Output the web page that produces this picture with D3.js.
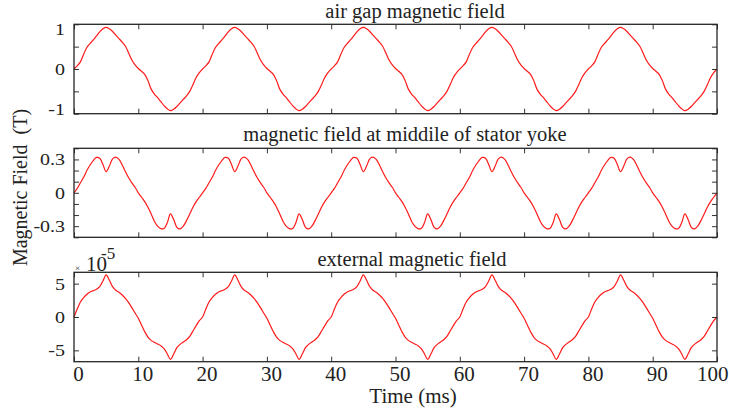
<!DOCTYPE html>
<html>
<head>
<meta charset="utf-8">
<script src="https://cdn.jsdelivr.net/npm/d3@7"></script>
<style>
  html, body { margin: 0; padding: 0; background: #fff; }
  svg { display: block; }
  text { font-family: "Liberation Serif", "Times New Roman", serif; fill: #222; }
</style>
</head>
<body>
<svg id="chart" width="729" height="411"></svg>
<script>
// Time axis (ms)
const timeTicks = [0, 10, 20, 30, 40, 50, 60, 70, 80, 90, 100];
const timeEnd = 100;

// One electrical period (20 ms) sampled every 0.5 ms; the steady-state waveform repeats each cycle
const periodMs = [0, 0.5, 1, 1.5, 2, 2.5, 3, 3.5, 4, 4.5, 5, 5.5, 6, 6.5, 7, 7.5, 8, 8.5, 9, 9.5,
                  10, 10.5, 11, 11.5, 12, 12.5, 13, 13.5, 14, 14.5, 15, 15.5, 16, 16.5, 17, 17.5, 18, 18.5, 19, 19.5];
const cycleStarts = [0, 20, 40, 60, 80];

// Air gap magnetic field (T)
const airGapPeriod = [0.00, 0.07, 0.16, 0.33, 0.48, 0.57, 0.65, 0.74, 0.83, 0.90,
                      0.93, 0.90, 0.84, 0.76, 0.68, 0.60, 0.51, 0.36, 0.20, 0.09,
                      0.01, -0.05, -0.12, -0.26, -0.45, -0.56, -0.64, -0.73, -0.82, -0.89,
                      -0.93, -0.90, -0.84, -0.76, -0.68, -0.60, -0.50, -0.35, -0.19, -0.08];

// Magnetic field at middle of stator yoke (T)
const yokePeriod = [0.00, 0.04, 0.09, 0.14, 0.20, 0.25, 0.29, 0.318, 0.31, 0.255,
                    0.19, 0.24, 0.305, 0.32, 0.30, 0.25, 0.19, 0.135, 0.09, 0.05,
                    0.00, -0.04, -0.08, -0.13, -0.19, -0.255, -0.30, -0.322, -0.32, -0.27,
                    -0.19, -0.24, -0.31, -0.325, -0.30, -0.25, -0.19, -0.13, -0.08, -0.04];

// External magnetic field (x 1e-5 T)
const externalPeriod = [0.0, 1.2, 2.25, 2.9, 3.4, 3.75, 3.95, 4.15, 4.55, 5.4,
                        6.3, 5.5, 4.55, 4.0, 3.7, 3.3, 2.8, 2.15, 1.4, 0.6,
                        -0.2, -1.2, -2.2, -3.0, -3.5, -3.8, -4.05, -4.3, -4.75, -5.5,
                        -6.35, -5.55, -4.6, -4.1, -3.75, -3.4, -2.9, -2.1, -1.3, -0.55];

// Panel titles and y-axis tick settings
const panelTitles = ["air gap magnetic field", "magnetic field at middile of stator yoke", "external magnetic field"];
const airGapTicks = [-1, -0.5, 0, 0.5, 1];
const airGapLabels = [-1, 0, 1];
const yokeTicks = [-0.4, -0.3, -0.2, -0.1, 0, 0.1, 0.2, 0.3, 0.4];
const yokeLabels = [-0.3, 0, 0.3];
const externalTicks = [-5, 0, 5];
const externalLabels = [-5, 0, 5];

function tileCycles(values) {
  const pts = [];
  cycleStarts.forEach(c => periodMs.forEach((t, i) => pts.push({ t: c + t, v: values[i] })));
  pts.push({ t: timeEnd, v: values[0] });
  return pts;
}

const panels = [
  { title: panelTitles[0], titleX: 415, titleY: 18, data: tileCycles(airGapPeriod), domain: [-1, 1],
    ticks: airGapTicks, labels: airGapLabels, top: 24.3, bottom: 113.7 },
  { title: panelTitles[1], titleX: 405, titleY: 141, data: tileCycles(yokePeriod), domain: [-0.4, 0.4],
    ticks: yokeTicks, labels: yokeLabels, top: 148.3, bottom: 237.3 },
  { title: panelTitles[2], titleX: 412, titleY: 266, data: tileCycles(externalPeriod), domain: [-6.7, 6.7],
    ticks: externalTicks, labels: externalLabels, top: 272.3, bottom: 361.7 }
];

const svg = d3.select("#chart");
const left = 74, right = 717;
const x = d3.scaleLinear().domain([0, timeEnd]).range([left, right]);

panels.forEach((p, idx) => {
  const y = d3.scaleLinear().domain(p.domain).range([p.bottom, p.top]);
  const g = svg.append("g");

  // curve
  const line = d3.line().x(d => x(d.t)).y(d => y(d.v)).curve(d3.curveCatmullRom.alpha(0.5));
  g.append("path").datum(p.data)
    .attr("d", line)
    .attr("fill", "none")
    .attr("stroke", "#ff1a1a")
    .attr("stroke-width", 1.2);

  // left axis with inward ticks
  const fmt = v => (p.labels.includes(v) ? String(v) : "");
  const ax = g.append("g").attr("transform", `translate(${left},0)`)
    .call(d3.axisLeft(y).tickValues(p.ticks).tickSize(-5).tickPadding(9).tickFormat(fmt));
  ax.attr("font-family", null);
  ax.selectAll("text")
    .style("font-size", "20px")
    .attr("fill", "#222")
    .attr("transform", function (v) {
      let shift = 0;
      const py = y(v);
      if (py - p.top < 5) shift = 5 - (py - p.top);
      if (p.bottom - py < 5) shift = -(5 - (p.bottom - py));
      return `translate(0,${shift}) scale(1,0.84)`;
    });

  // right axis ticks
  g.append("g").attr("transform", `translate(${right},0)`)
    .call(d3.axisRight(y).tickValues(p.ticks).tickSize(-5).tickFormat(""));

  // top axis ticks
  g.append("g").attr("transform", `translate(0,${p.top})`)
    .call(d3.axisTop(x).tickValues(timeTicks).tickSize(-5).tickFormat(""));

  // bottom axis ticks (labels only on the last panel)
  const bx = g.append("g").attr("transform", `translate(0,${p.bottom})`)
    .call(d3.axisBottom(x).tickValues(timeTicks).tickSize(-5).tickPadding(4)
      .tickFormat(idx === panels.length - 1 ? d3.format("d") : ""));
  bx.attr("font-family", null);
  bx.selectAll("text").style("font-size", "21px").attr("fill", "#222")
    .attr("x", d => (d === timeEnd ? 11 : 4))
    .attr("text-anchor", d => (d === timeEnd ? "end" : "middle"));

  g.selectAll(".domain").remove();
  g.selectAll(".tick line").attr("stroke", "#333").attr("stroke-width", 1);

  // frame
  g.append("rect")
    .attr("x", left).attr("y", p.top)
    .attr("width", right - left).attr("height", p.bottom - p.top)
    .attr("fill", "none").attr("stroke", "#262626").attr("stroke-width", 1.3);

  // title
  svg.append("text")
    .attr("x", p.titleX).attr("y", p.titleY)
    .attr("text-anchor", "middle")
    .style("font-size", "20.5px")
    .text(p.title);
});

// exponent marker for the external field panel
const expo = svg.append("g");
expo.append("text").attr("x", 75).attr("y", 271).style("font-size", "9px").text("\u00d7");
expo.append("text").attr("x", 86).attr("y", 270.5).style("font-size", "21px").text("10");
expo.append("text").attr("x", 101).attr("y", 259).style("font-size", "17px").text("-5");

// axis labels
svg.append("text")
  .attr("x", 413).attr("y", 403)
  .attr("text-anchor", "middle")
  .style("font-size", "21px")
  .text("Time (ms)");

svg.append("text")
  .attr("transform", "translate(27,187.5) rotate(-90)")
  .attr("text-anchor", "middle")
  .style("font-size", "20px")
  .style("white-space", "pre")
  .text("Magnetic Field  (T)");
</script>
</body>
</html>
